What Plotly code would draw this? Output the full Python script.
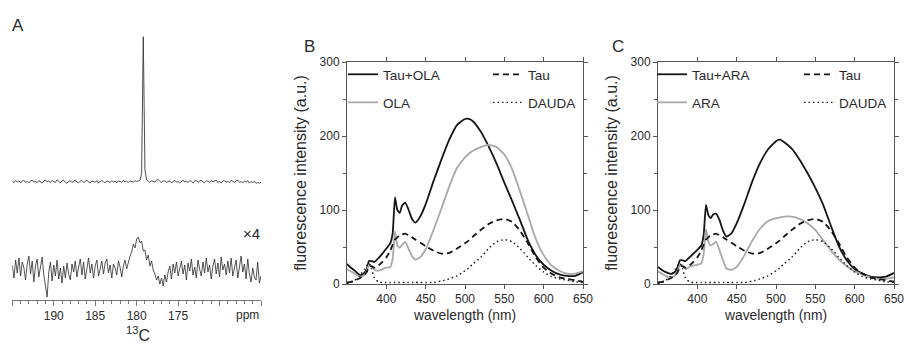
import numpy as np
import plotly.graph_objects as go

W, H = 906, 347
FONT = "Liberation Sans, Arial, sans-serif"
TXT = "#2a2a2a"
AX = "#555555"
BLACK = "#151515"
GRAY = "#a8a8a8"

# ---------------- Panel A: 13C NMR ----------------
ppm = np.round(np.linspace(195, 165, 151), 2)
nmr_upper = [0.5, -0.8, 1.2, -0.3, 0.9, -1.1, 0.4, 1.5, -0.6, 0.2,
             -1.3, 0.8, 1.6, -0.4, 0.3, -0.9, 1.1, 0.2, -1.4, 0.7,
             1.8, -0.2, 0.6, -1.0, 1.3, 0.1, -0.7, 2.0, 0.4, -1.2,
             0.9, 1.4, -0.5, -1.6, 0.3, 1.0, -0.8, 0.5, 1.7, -0.3,
             -1.1, 0.6, 1.2, -0.9, 0.0, 1.5, -0.4, -1.3, 0.8, 0.2,
             -0.6, 1.1, -1.5, 0.4, 1.3, -0.2, -1.0, 0.7, 0.3, -0.8,
             1.2, -0.5, 0.6, -1.2, 0.9, 0.1, -0.7, 1.4, -0.3, 0.5,
             -0.9, 0.8, 0.2, -0.4, 1.0, 0.3, 0.6, 1.5, 8.0, 145.0,
             12.0, 1.8, 0.4, -0.6, 0.9, 0.3, -0.5, 1.6, 2.2, 0.4,
             -0.7, 0.5, 1.0, -0.8, 0.2, 0.9, -1.1, 0.4, 1.3, -0.5,
             0.1, -1.2, 0.7, 1.5, -0.3, 0.6, -0.9, 1.1, 0.3, -1.4,
             0.8, 1.2, -0.6, 0.2, 1.6, -0.4, -1.0, 0.9, 0.5, -0.7,
             1.3, -0.2, 0.6, 1.7, -0.9, 0.4, -1.3, 0.8, 1.1, -0.5,
             0.3, -1.0, 1.4, 0.2, -0.8, 0.9, 1.5, -0.6, 0.1, -1.2,
             0.7, -0.4, 1.0, -1.5, 0.3, -0.9, 0.6, -1.7, -0.8, -1.4,
             -0.6]
nmr_lower = [5, -8, 10, -3, 12, -6, 8, 2, -10, 6,
             14, -4, 9, -12, 4, 11, -7, 3, 13, -5,
             -14, -27, -2, 8, -11, 5, -6, 10, -9, 2,
             -13, 4, -8, 7, -4, -10, 6, -2, 9, -7,
             3, 11, -5, 8, -9, 2, 12, -3, 6, -8,
             4, 10, -6, 1, 9, -4, 7, 11, -3, 5,
             -8, 6, 2, -5, 9, 3, -7, 4, 10, 1,
             8, 14, 18, 26, 22, 31, 33, 27, 29, 19,
             20, 10, 15, 4, 9, 0, -4, -10, -6, -14,
             -8, -16, -5, -12, -2, 4, -9, 6, -3, 8,
             -6, 2, 9, -4, 5, -10, 7, -1, 11, -5,
             3, -8, 10, 1, -6, 8, -3, 12, -2, 5,
             -9, 4, 11, -4, 7, -7, 13, 0, 6, -5,
             9, -3, 12, -6, 4, 10, -8, 3, 14, -2,
             6, -9, 11, -4, -12, 2, -7, -10, 8, -13,
             -6]
ppm_tickvals = [195, 190, 185, 180, 175, 170, 165]
ppm_ticktext = ["", "190", "185", "180", "175", "", ""]

# ---------------- Panels B, C: fluorescence ----------------
wl = [350, 355, 360, 365, 368, 372, 375, 378, 381, 385,
      390, 395, 400, 405, 408, 411, 414, 417, 420, 424,
      428, 433, 437, 443, 450, 460, 470, 480, 490, 500,
      505, 510, 520, 530, 540, 550, 560, 570, 580, 590,
      600, 610, 620, 630, 640, 650]
tau_ola = [27, 22, 18, 13, 12, 15, 20, 31, 31, 30,
           35, 41, 48, 55, 68, 117, 100, 96, 106, 110,
           101, 87, 83, 91, 108, 139, 168, 195, 215, 223,
           223, 220, 206, 186, 163, 137, 112, 86, 59, 39,
           26, 18, 13, 11, 11, 16]
ola = [20, 17, 14, 11, 10, 12, 17, 26, 24, 19,
       18, 20, 22, 23, 34, 71, 52, 49, 53, 57,
       48, 37, 33, 36, 47, 73, 102, 132, 157, 171,
       176, 180, 185, 188, 185, 175, 155, 125, 93, 61,
       39, 25, 18, 14, 14, 17]
tau = [2, 3, 5, 7, 9, 12, 16, 24, 24, 22,
       25, 30, 36, 45, 53, 60, 63, 66, 67, 68,
       66, 63, 60, 56, 51, 45, 41, 42, 48, 55,
       59, 64, 73, 81, 86, 88, 84, 72, 55, 36,
       22, 14, 9, 7, 5, 3]
dauda = [1, 2, 5, 10, 14, 20, 25, 28, 21, 8,
         3, 2, 2, 2, 2, 2, 2, 2, 2, 2,
         2, 2, 2, 2, 2, 2, 4, 7, 11, 18,
         22, 27, 36, 48, 57, 60, 57, 48, 36, 25,
         16, 10, 7, 5, 3, 2]
tau_ara = [23, 19, 16, 14, 14, 17, 23, 32, 32, 31,
           36, 41, 46, 52, 66, 107, 93, 89, 94, 95,
           87, 71, 64, 68, 82, 109, 139, 164, 182, 193,
           195, 192, 183, 168, 150, 130, 107, 78, 51, 32,
           20, 14, 10, 9, 10, 15]
ara = [17, 14, 11, 9, 9, 12, 17, 26, 25, 20,
       23, 25, 26, 28, 40, 74, 57, 52, 54, 57,
       46, 31, 21, 19, 23, 39, 59, 75, 85, 89,
       90, 91, 91, 88, 82, 73, 59, 45, 33, 24,
       17, 13, 9, 7, 7, 9]
wl_ticks = [400, 450, 500, 550, 600, 650]
y_ticks = [0, 100, 200, 300]


def fx(p):
    return p / W


def fy(p):
    return 1 - p / H


fig = go.Figure()

# Panel A traces
fig.add_trace(go.Scatter(x=ppm, y=118.3 + np.array(nmr_upper), mode="lines",
                         line=dict(color="#3a3a3a", width=0.9), showlegend=False,
                         xaxis="x", yaxis="y"))
fig.add_trace(go.Scatter(x=ppm, y=30 + np.array(nmr_lower), mode="lines",
                         line=dict(color="#2a2a2a", width=0.8), showlegend=False,
                         xaxis="x", yaxis="y"))

LW = 1.8


def add_panel(xa, ya, mix_name, mix, fa_name, fa, lg_left, lg_right, grp):
    fig.add_trace(go.Scatter(x=wl, y=mix, mode="lines", name=mix_name,
                             line=dict(color=BLACK, width=LW, shape="spline", smoothing=0.5),
                             xaxis=xa, yaxis=ya, legend=lg_left, legendgroup=grp + "a"))
    fig.add_trace(go.Scatter(x=wl, y=fa, mode="lines", name=fa_name,
                             line=dict(color=GRAY, width=LW, shape="spline", smoothing=0.5),
                             xaxis=xa, yaxis=ya, legend=lg_left, legendgroup=grp + "b"))
    fig.add_trace(go.Scatter(x=wl, y=tau, mode="lines", name="Tau",
                             line=dict(color=BLACK, width=LW, dash="6px,4px", shape="spline", smoothing=0.5),
                             xaxis=xa, yaxis=ya, legend=lg_right, legendgroup=grp + "c"))
    fig.add_trace(go.Scatter(x=wl, y=dauda, mode="lines", name="DAUDA",
                             line=dict(color=BLACK, width=1.4, dash="1.5px,3px", shape="spline", smoothing=0.5),
                             xaxis=xa, yaxis=ya, legend=lg_right, legendgroup=grp + "d"))


add_panel("x2", "y2", "Tau+OLA", tau_ola, "OLA", ola, "legend", "legend2", "B")
add_panel("x3", "y3", "Tau+ARA", tau_ara, "ARA", ara, "legend3", "legend4", "C")

tickfont = dict(family=FONT, size=12, color=TXT)


def xfl(d0, d1):
    return dict(domain=[fx(d0), fx(d1)], range=[350, 650], tickvals=wl_ticks,
                showline=True, linecolor=AX, linewidth=1, mirror="ticks",
                ticks="outside", ticklen=4, tickcolor=AX, showgrid=False, zeroline=False,
                tickfont=tickfont, automargin=False,
                title=dict(text="wavelength (nm)", font=dict(family=FONT, size=13.8, color=TXT), standoff=4))


def yfl(anchor):
    return dict(domain=[fy(284), fy(62)], range=[0, 300], tickvals=y_ticks,
                showline=True, linecolor=AX, linewidth=1, mirror="ticks",
                ticks="outside", ticklen=4, tickcolor=AX, showgrid=False, zeroline=False,
                minor=dict(dtick=50, ticks="outside", ticklen=3, tickcolor=AX),
                tickfont=tickfont, anchor=anchor, automargin=False,
                title=dict(text="fluorescence intensity (a.u.)", font=dict(family=FONT, size=16, color=TXT), standoff=8))


legfont = dict(family=FONT, size=13.5, color=TXT)


def leg(xp, yp):
    return dict(x=fx(xp), y=fy(yp), xanchor="left", yanchor="top", xref="paper", yref="paper",
                bgcolor="rgba(0,0,0,0)", font=legfont, tracegroupgap=7.5, itemwidth=30,
                traceorder="grouped")


fig.update_layout(
    width=W, height=H, margin=dict(l=0, r=0, t=0, b=0, autoexpand=False),
    paper_bgcolor="white", plot_bgcolor="white",
    font=dict(family=FONT, color=TXT),
    xaxis=dict(domain=[fx(12.3), fx(261)], range=[195, 165], tickvals=ppm_tickvals,
               ticktext=ppm_ticktext, showline=True, linecolor="#777777", linewidth=1,
               ticks="outside", ticklen=5, tickcolor="#777777", showgrid=False, zeroline=False,
               minor=dict(dtick=1, ticks="outside", ticklen=2.5, tickcolor="#777777"),
               tickfont=tickfont, anchor="y", automargin=False),
    yaxis=dict(domain=[fy(300), fy(30)], range=[0, 270], visible=False, anchor="x",
               automargin=False),
    xaxis2=xfl(347, 583) | dict(anchor="y2"),
    yaxis2=yfl("x2"),
    xaxis3=xfl(658, 894) | dict(anchor="y3"),
    yaxis3=yfl("x3"),
    legend=leg(343, 59),
    legend2=leg(488, 59),
    legend3=leg(652, 59),
    legend4=leg(799, 59),
)

ann = [
    dict(text="A", x=fx(10), y=fy(25)),
    dict(text="B", x=fx(302), y=fy(46)),
    dict(text="C", x=fx(610), y=fy(46)),
]
for a in ann:
    fig.add_annotation(text=a["text"], x=a["x"], y=a["y"], xref="paper", yref="paper",
                       xanchor="left", yanchor="middle", showarrow=False,
                       font=dict(family=FONT, size=17, color=TXT))
fig.add_annotation(text="×4", x=fx(252), y=fy(233), xref="paper", yref="paper",
                   xanchor="center", yanchor="middle",
                   showarrow=False, font=dict(family=FONT, size=15, color=TXT))
fig.add_annotation(text="<sup>13</sup>C", x=fx(138), y=fy(346), xref="paper", yref="paper",
                   xanchor="center", yanchor="bottom",
                   showarrow=False, font=dict(family=FONT, size=16, color=TXT))
fig.add_annotation(text="ppm", x=fx(247), y=fy(315), xref="paper", yref="paper",
                   xanchor="center", yanchor="middle",
                   showarrow=False, font=dict(family=FONT, size=12, color=TXT))

fig.write_html("out.html", config={"displayModeBar": False},
               post_script="document.body.style.margin='0';document.body.style.overflow='hidden';")
